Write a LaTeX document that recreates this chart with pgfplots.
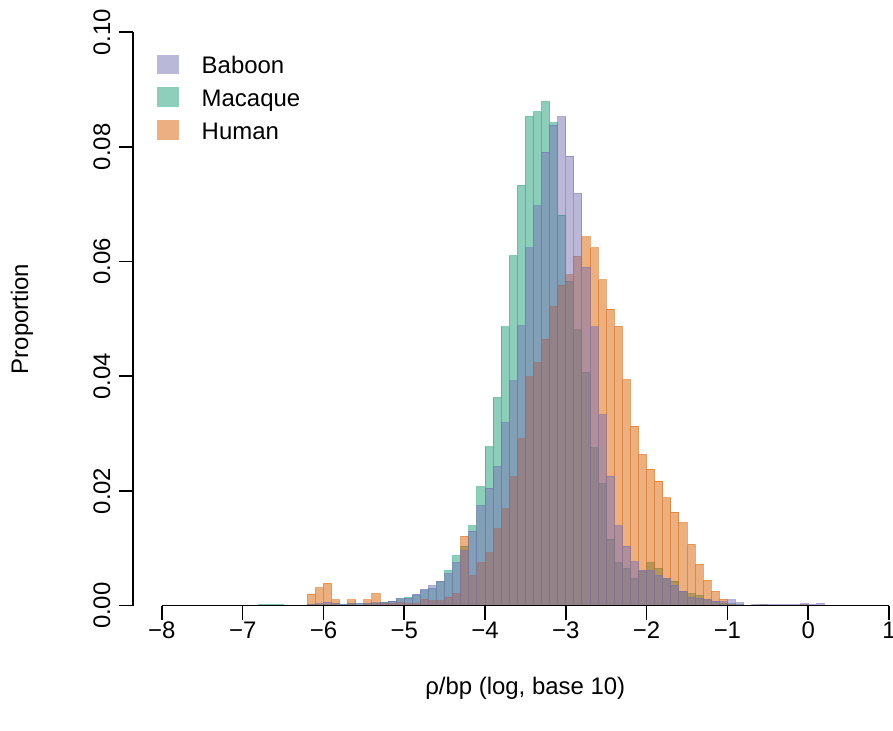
\documentclass[border=0pt]{standalone}
\usepackage{pgfplots}
\pgfplotsset{compat=1.18}
\usepackage{pgfplotstable}
\usepackage{fontspec}
\setmainfont{Liberation Sans}
\definecolor{bab}{HTML}{7570B3}
\definecolor{mac}{HTML}{1B9E77}
\definecolor{hum}{HTML}{D95F02}
\pgfplotstableread{
x mac hum bab
-7.0 0.0000 0.0000 0.0000
-6.9 0.0001 0.0000 0.0000
-6.8 0.0002 0.0000 0.0001
-6.7 0.0002 0.0000 0.0001
-6.6 0.0002 0.0000 0.0001
-6.5 0.0001 0.0000 0.0001
-6.4 0.0001 0.0000 0.0001
-6.3 0.0001 0.0001 0.0001
-6.2 0.0002 0.0020 0.0002
-6.1 0.0002 0.0031 0.0003
-6.0 0.0002 0.0039 0.0006
-5.9 0.0003 0.0010 0.0003
-5.8 0.0002 0.0001 0.0002
-5.7 0.0003 0.0010 0.0003
-5.6 0.0003 0.0001 0.0003
-5.5 0.0004 0.0010 0.0004
-5.4 0.0004 0.0021 0.0005
-5.3 0.0006 0.0004 0.0005
-5.2 0.0008 0.0004 0.0008
-5.1 0.0012 0.0005 0.0012
-5.0 0.0014 0.0004 0.0013
-4.9 0.0018 0.0004 0.0020
-4.8 0.0026 0.0011 0.0029
-4.7 0.0030 0.0009 0.0035
-4.6 0.0042 0.0009 0.0043
-4.5 0.0061 0.0015 0.0056
-4.4 0.0087 0.0021 0.0075
-4.3 0.0104 0.0121 0.0096
-4.2 0.0139 0.0052 0.0130
-4.1 0.0207 0.0075 0.0175
-4.0 0.0277 0.0092 0.0205
-3.9 0.0363 0.0134 0.0243
-3.8 0.0486 0.0169 0.0319
-3.7 0.0610 0.0225 0.0392
-3.6 0.0733 0.0291 0.0488
-3.5 0.0853 0.0399 0.0624
-3.4 0.0861 0.0424 0.0697
-3.3 0.0879 0.0465 0.0791
-3.2 0.0842 0.0522 0.0838
-3.1 0.0681 0.0559 0.0853
-3.0 0.0566 0.0577 0.0784
-2.9 0.0481 0.0609 0.0719
-2.8 0.0407 0.0643 0.0590
-2.7 0.0275 0.0624 0.0486
-2.6 0.0213 0.0568 0.0333
-2.5 0.0116 0.0517 0.0226
-2.4 0.0075 0.0487 0.0139
-2.3 0.0065 0.0394 0.0104
-2.2 0.0047 0.0313 0.0077
-2.1 0.0060 0.0264 0.0062
-2.0 0.0075 0.0238 0.0061
-1.9 0.0065 0.0217 0.0053
-1.8 0.0047 0.0188 0.0047
-1.7 0.0043 0.0163 0.0036
-1.6 0.0025 0.0145 0.0025
-1.5 0.0021 0.0107 0.0015
-1.4 0.0018 0.0072 0.0013
-1.3 0.0010 0.0044 0.0010
-1.2 0.0007 0.0025 0.0008
-1.1 0.0004 0.0011 0.0007
-1.0 0.0003 0.0002 0.0010
-0.9 0.0002 0.0001 0.0005
-0.8 0.0001 0.0000 0.0001
-0.7 0.0001 0.0001 0.0002
-0.6 0.0000 0.0002 0.0002
-0.5 0.0001 0.0001 0.0002
-0.4 0.0000 0.0001 0.0002
-0.3 0.0000 0.0001 0.0002
-0.2 0.0000 0.0001 0.0002
-0.1 0.0000 0.0002 0.0003
0.0 0.0000 0.0000 0.0002
0.1 0.0000 0.0000 0.0004
0.2 0.0000 0.0000 0.0001
0.3 0.0000 0.0000 0.0000
}\histdata
\begin{document}
\fontsize{12}{14}\selectfont
\begin{tikzpicture}
\begin{axis}[
  scale only axis, width=379.1pt, height=287.5pt,
  xmin=-8.36, xmax=1.0, ymin=0, ymax=0.1,
  clip=false,
  axis x line*=bottom, axis y line*=left,
  axis line style={draw=none},
  xtick={-8,-7,...,1},
  xticklabels={−8,−7,−6,−5,−4,−3,−2,−1,0,1},
  ytick={0,0.02,0.04,0.06,0.08,0.1},
  yticklabels={0.00,0.02,0.04,0.06,0.08,0.10},
  tick align=outside, major tick length=7pt,
  tick style={black, line width=0.8pt},
  ticklabel style={font=\fontsize{12}{14}\selectfont},
  xticklabel style={yshift=3pt},
  yticklabel style={rotate=90, anchor=south},
  xlabel={ρ/bp (log, base 10)}, ylabel={Proportion},
  label style={font=\fontsize{12}{14}\selectfont},
  xlabel style={at={(axis description cs:0.519,-0.1438)}, anchor=center},
  ylabel style={at={(axis description cs:-0.1466,0.5)}, anchor=center},
  legend style={at={(axis description cs:0.0318,0.9607)}, anchor=north west,
    draw=none, fill=none, inner sep=0pt, outer sep=0pt,
    row sep=6.8pt, column sep=11.3pt,
    nodes={inner sep=0pt, text height=9.2pt, text depth=0pt},
    font=\fontsize{12}{14}\selectfont},
  legend cell align=left,
]
\addlegendimage{legend image code/.code={\fill[bab!50!white] (0pt,-4.5pt) rectangle (10.8pt,4.7pt);}}
\addlegendentry{Baboon}
\addlegendimage{legend image code/.code={\fill[mac!50!white] (0pt,-4.5pt) rectangle (10.8pt,4.7pt);}}
\addlegendentry{Macaque}
\addlegendimage{legend image code/.code={\fill[hum!50!white] (0pt,-4.5pt) rectangle (10.8pt,4.7pt);}}
\addlegendentry{Human}
\addplot[ybar interval, fill=mac, fill opacity=0.5, draw=mac, draw opacity=0.5, line width=0.5pt, forget plot] table[x=x, y=mac] {\histdata};
\addplot[ybar interval, fill=hum, fill opacity=0.5, draw=hum, draw opacity=0.5, line width=0.5pt, forget plot] table[x=x, y=hum] {\histdata};
\addplot[ybar interval, fill=bab, fill opacity=0.5, draw=bab, draw opacity=0.5, line width=0.5pt, forget plot] table[x=x, y=bab] {\histdata};
\draw[line width=0.8pt] (axis cs:-8,0) -- (axis cs:1,0);
\draw[line width=0.8pt] (axis cs:-8.36,0) -- (axis cs:-8.36,0.1);
\coordinate (bbl) at (axis cs:-10.004,-0.02181);
\coordinate (bbr) at (axis cs:1.05,0.10562);
\end{axis}
\pgfresetboundingbox
\path[use as bounding box] (bbl) rectangle (bbr);
\end{tikzpicture}
\end{document}
